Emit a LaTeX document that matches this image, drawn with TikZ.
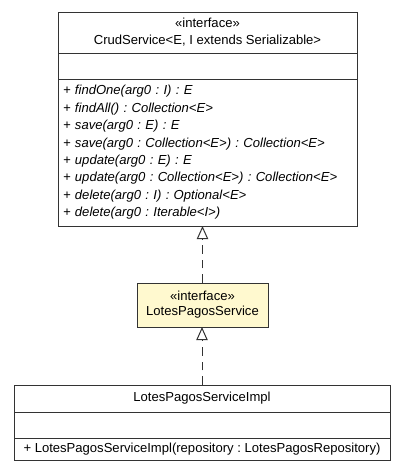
\documentclass[tikz,border=0pt]{standalone}
\usepackage{fontspec}
\setmainfont{Liberation Sans}
\usepackage{xcolor}
\usetikzlibrary{positioning,arrows.meta}
\definecolor{ifacefill}{HTML}{FFF9CF}
\definecolor{umlline}{HTML}{333333}
\frenchspacing

\begin{document}
\begin{tikzpicture}[
  x=0.75pt, y=-0.75pt,
  font=\fontsize{9.8}{12.75}\selectfont,
  part/.style={draw=umlline, line width=0.75pt, inner sep=0pt, outer sep=0pt, align=center},
  ops/.style={part, inner xsep=3.75pt, align=left},
  realize/.style={draw=umlline, line width=0.75pt, dash pattern=on 6.5pt off 4.5pt, -{Triangle[open, length=9.75pt, width=8.5pt, line width=0.75pt, sep=0pt]}}
]
\useasboundingbox (0,0) rectangle (407,472);
% interface CrudService
\node[part, minimum width=224.25pt, minimum height=30.75pt, anchor=north west] (crudHead) at (58,12) {«interface»\\CrudService<E, I extends Serializable>};
\node[part, below=0pt of crudHead, minimum width=224.25pt, minimum height=19.5pt] (crudAttr) {};
\node[ops, below=0pt of crudAttr, text width=216.75pt, minimum height=110.25pt,
  font=\fontsize{9.8}{13.05}\selectfont\itshape] (crudOps) {%
  + findOne(arg0 : I) : E\\
  + findAll() : Collection<E>\\
  + save(arg0 : E) : E\\
  + save(arg0 : Collection<E>) : Collection<E>\\
  + update(arg0 : E) : E\\
  + update(arg0 : Collection<E>) : Collection<E>\\
  + delete(arg0 : I) : Optional<E>\\
  + delete(arg0 : Iterable<I>)};
% interface LotesPagosService
\node[part, fill=ifacefill, minimum width=98.25pt, minimum height=33pt, anchor=north,
  font=\fontsize{9.8}{11.25}\selectfont] (svc) at (202.5,283) {«interface»\\LotesPagosService};
% class LotesPagosServiceImpl
\node[part, minimum width=282pt, minimum height=20.25pt, anchor=north west] (implHead) at (14,385) {LotesPagosServiceImpl};
\node[part, below=0pt of implHead, minimum width=282pt, minimum height=19.5pt] (implAttr) {};
\node[part, below=0pt of implAttr, minimum width=282pt, minimum height=16.5pt] (implOps) {+ LotesPagosServiceImpl(repository : LotesPagosRepository)};
\draw[realize] (svc.north) -- (svc.north |- crudOps.south);
\draw[realize] (implHead.north) -- (implHead.north |- svc.south);
\end{tikzpicture}
\end{document}
